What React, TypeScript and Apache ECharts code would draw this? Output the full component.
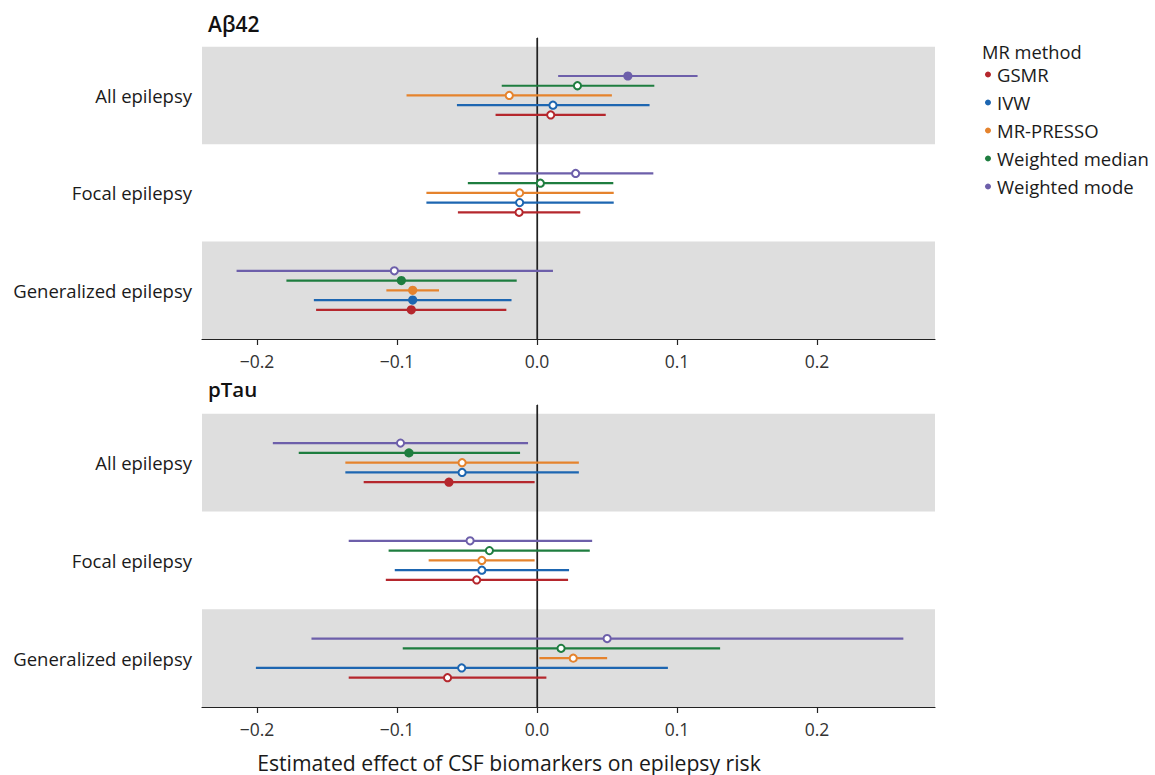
import React, { useEffect, useRef } from "react";
import * as echarts from "echarts";

const categories = ["All epilepsy", "Focal epilepsy", "Generalized epilepsy"];
const methods = ["GSMR", "IVW", "MR-PRESSO", "Weighted median", "Weighted mode"];
const methodColors = ["#B5272D", "#1D66B1", "#E5832D", "#1E7D3F", "#6D5FAA"];
const xTicks = [-0.2, -0.1, 0, 0.1, 0.2];

// rows: method, columns: category (All, Focal, Generalized)
const abetaEstimate = [
  [0.0098, -0.0128, -0.0898],
  [0.0114, -0.0124, -0.0888],
  [-0.0198, -0.0124, -0.0888],
  [0.0289, 0.0024, -0.0969],
  [0.0649, 0.0276, -0.1019],
];
const abetaLower = [
  [-0.0296, -0.0565, -0.1578],
  [-0.0572, -0.079, -0.1594],
  [-0.0932, -0.079, -0.1076],
  [-0.0252, -0.0494, -0.179],
  [0.0151, -0.0276, -0.2146],
];
const abetaUpper = [
  [0.0491, 0.0309, -0.0219],
  [0.0804, 0.0548, -0.0182],
  [0.0535, 0.0548, -0.07],
  [0.0838, 0.0545, -0.0145],
  [0.1147, 0.0831, 0.0114],
];
const abetaSignificant = [
  [0, 0, 1],
  [0, 0, 1],
  [0, 0, 1],
  [0, 0, 1],
  [1, 0, 0],
];

const ptauEstimate = [
  [-0.0629, -0.0431, -0.0639],
  [-0.0535, -0.0394, -0.0538],
  [-0.0535, -0.0394, 0.0259],
  [-0.0915, -0.034, 0.0172],
  [-0.0975, -0.0478, 0.0501],
];
const ptauLower = [
  [-0.1238, -0.108, -0.1345],
  [-0.1369, -0.1016, -0.2008],
  [-0.1369, -0.0774, 0.0017],
  [-0.1702, -0.106, -0.0959],
  [-0.1887, -0.1345, -0.1611],
];
const ptauUpper = [
  [-0.0017, 0.0222, 0.0067],
  [0.0299, 0.0229, 0.0935],
  [0.0299, -0.0017, 0.0501],
  [-0.0121, 0.0377, 0.1308],
  [-0.0064, 0.0394, 0.2617],
];
const ptauSignificant = [
  [1, 0, 0],
  [0, 0, 0],
  [0, 0, 0],
  [1, 0, 0],
  [0, 0, 0],
];

const X_MIN = -0.2393;
const X_MAX = 0.2843;
const Y_MIN = 0.5;
const Y_MAX = 3.59;
const FONT = "'Open Sans', 'Noto Sans', sans-serif";

function fmtTick(v: number) {
  if (Math.abs(v) < 1e-9) return "0.0";
  return (v < 0 ? "\u2212" : "") + Math.abs(v).toFixed(1);
}

function catY(c: number) {
  return 3 - c;
}

export default function App() {
  const ref = useRef<HTMLDivElement>(null);
  useEffect(() => {
    if (!ref.current) return;
    const chart = echarts.init(ref.current, null, { renderer: "svg" });

    const panels = [
      { est: abetaEstimate, lo: abetaLower, hi: abetaUpper, sig: abetaSignificant },
      { est: ptauEstimate, lo: ptauLower, hi: ptauUpper, sig: ptauSignificant },
    ];
    const grids = [
      { left: 202, width: 733, top: 38, height: 301 },
      { left: 202, width: 733, top: 405, height: 302 },
    ];

    const xAxes = grids.map((_, i) => ({
      type: "value",
      gridIndex: i,
      min: X_MIN,
      max: X_MAX,
      splitLine: { show: false },
      axisLine: { show: true, lineStyle: { color: "#222", width: 1.2 } },
      axisTick: {
        show: true,
        length: 6,
        lineStyle: { color: "#222", width: 1.2 },
        customValues: xTicks,
      },
      axisLabel: {
        customValues: xTicks,
        formatter: (v: number) => fmtTick(v),
        color: "#333",
        fontSize: 17.5,
        fontFamily: FONT,
        margin: 13,
      },
    }));
    const yAxes = grids.map((_, i) => ({
      type: "value",
      gridIndex: i,
      min: Y_MIN,
      max: Y_MAX,
      splitLine: { show: false },
      axisLine: { show: true, lineStyle: { color: "#222", width: 1.2 } },
      axisTick: { show: false, customValues: [1, 2, 3] },
      axisLabel: {
        customValues: [1, 2, 3],
        formatter: (v: number) => categories[3 - Math.round(v)],
        color: "#1a1a1a",
        fontSize: 18.5,
        fontFamily: FONT,
        margin: 10,
      },
    }));

    const series: any[] = [];
    grids.forEach((_, gi) => {
      // background bands
      series.push({
        type: "custom",
        xAxisIndex: gi,
        yAxisIndex: gi,
        silent: true,
        z: 0,
        data: [[catY(0)], [catY(2)]],
        encode: { y: 0 },
        renderItem: (params: any, api: any) => {
          const cs = params.coordSys;
          const y = api.value(0);
          const top = api.coord([X_MIN, y + 0.5])[1];
          const bot = api.coord([X_MIN, y - 0.5])[1];
          return {
            type: "rect",
            shape: { x: cs.x, y: top, width: cs.width, height: bot - top },
            style: { fill: "#DEDEDE" },
          };
        },
      });
      // zero line
      series.push({
        type: "custom",
        xAxisIndex: gi,
        yAxisIndex: gi,
        silent: true,
        z: 1,
        data: [[0]],
        encode: { x: 0 },
        renderItem: (params: any, api: any) => {
          const cs = params.coordSys;
          const x = api.coord([api.value(0), Y_MIN])[0];
          return {
            type: "line",
            shape: { x1: x, y1: cs.y, x2: x, y2: cs.y + cs.height },
            style: { stroke: "#222", lineWidth: 1.2 },
          };
        },
      });
      const p = panels[gi];
      methods.forEach((m, mi) => {
        const color = methodColors[mi];
        const data = categories.map((_, ci) => [
          p.lo[mi][ci],
          p.hi[mi][ci],
          p.est[mi][ci],
          catY(ci) + (mi - 2) * 0.1,
          p.sig[mi][ci],
        ]);
        series.push({
          type: "custom",
          name: m,
          xAxisIndex: gi,
          yAxisIndex: gi,
          z: 2,
          color,
          itemStyle: { color },
          data,
          encode: { x: [0, 1, 2], y: 3 },
          renderItem: (params: any, api: any) => {
            const lo = api.value(0);
            const hi = api.value(1);
            const est = api.value(2);
            const y = api.value(3);
            const filled = api.value(4) === 1;
            const p1 = api.coord([lo, y]);
            const p2 = api.coord([hi, y]);
            const pe = api.coord([est, y]);
            return {
              type: "group",
              children: [
                {
                  type: "line",
                  shape: { x1: p1[0], y1: p1[1], x2: p2[0], y2: p2[1] },
                  style: { stroke: color, lineWidth: 2.2 },
                },
                {
                  type: "circle",
                  shape: { cx: pe[0], cy: pe[1], r: filled ? 4.6 : 3.6 },
                  style: filled
                    ? { fill: color, stroke: color, lineWidth: 0 }
                    : { fill: "#ffffff", stroke: color, lineWidth: 2 },
                },
              ],
            };
          },
        });
      });
    });

    chart.setOption({
      animation: false,
      backgroundColor: "#ffffff",
      textStyle: { fontFamily: FONT },
      grid: grids.map((g) => ({ ...g, containLabel: false })),
      xAxis: xAxes,
      yAxis: yAxes,
      legend: {
        data: methods,
        orient: "vertical",
        left: 985,
        top: 65,
        padding: 0,
        icon: "circle",
        itemWidth: 6,
        itemHeight: 6,
        itemGap: 9,
        selectedMode: false,
        textStyle: {
          fontSize: 18.5,
          lineHeight: 18,
          color: "#1a1a1a",
          fontFamily: FONT,
          padding: [0, 0, 0, 1],
        },
      },
      graphic: [
        {
          type: "text",
          x: 208,
          y: 24,
          style: {
            text: "A\u03B242",
            fontSize: 21,
            fontWeight: 600,
            fill: "#111",
            fontFamily: FONT,
            verticalAlign: "middle",
          },
        },
        {
          type: "text",
          x: 208,
          y: 389,
          style: {
            text: "pTau",
            fontSize: 20.5,
            fontWeight: 600,
            fill: "#111",
            fontFamily: FONT,
            verticalAlign: "middle",
          },
        },
        {
          type: "text",
          x: 982,
          y: 51,
          style: {
            text: "MR method",
            fontSize: 18.3,
            lineHeight: 18,
            fill: "#1a1a1a",
            fontFamily: FONT,
            verticalAlign: "middle",
          },
        },
        {
          type: "text",
          x: 509,
          y: 762,
          style: {
            text: "Estimated effect of CSF biomarkers on epilepsy risk",
            fontSize: 21.2,
            fill: "#1a1a1a",
            fontFamily: FONT,
            align: "center",
            verticalAlign: "middle",
          },
        },
      ],
      series,
    });
    return () => chart.dispose();
  }, []);
  return (
    <div
      ref={ref}
      style={{ position: "fixed", left: 0, top: 0, width: 1155, height: 775, background: "#fff" }}
    />
  );
}
